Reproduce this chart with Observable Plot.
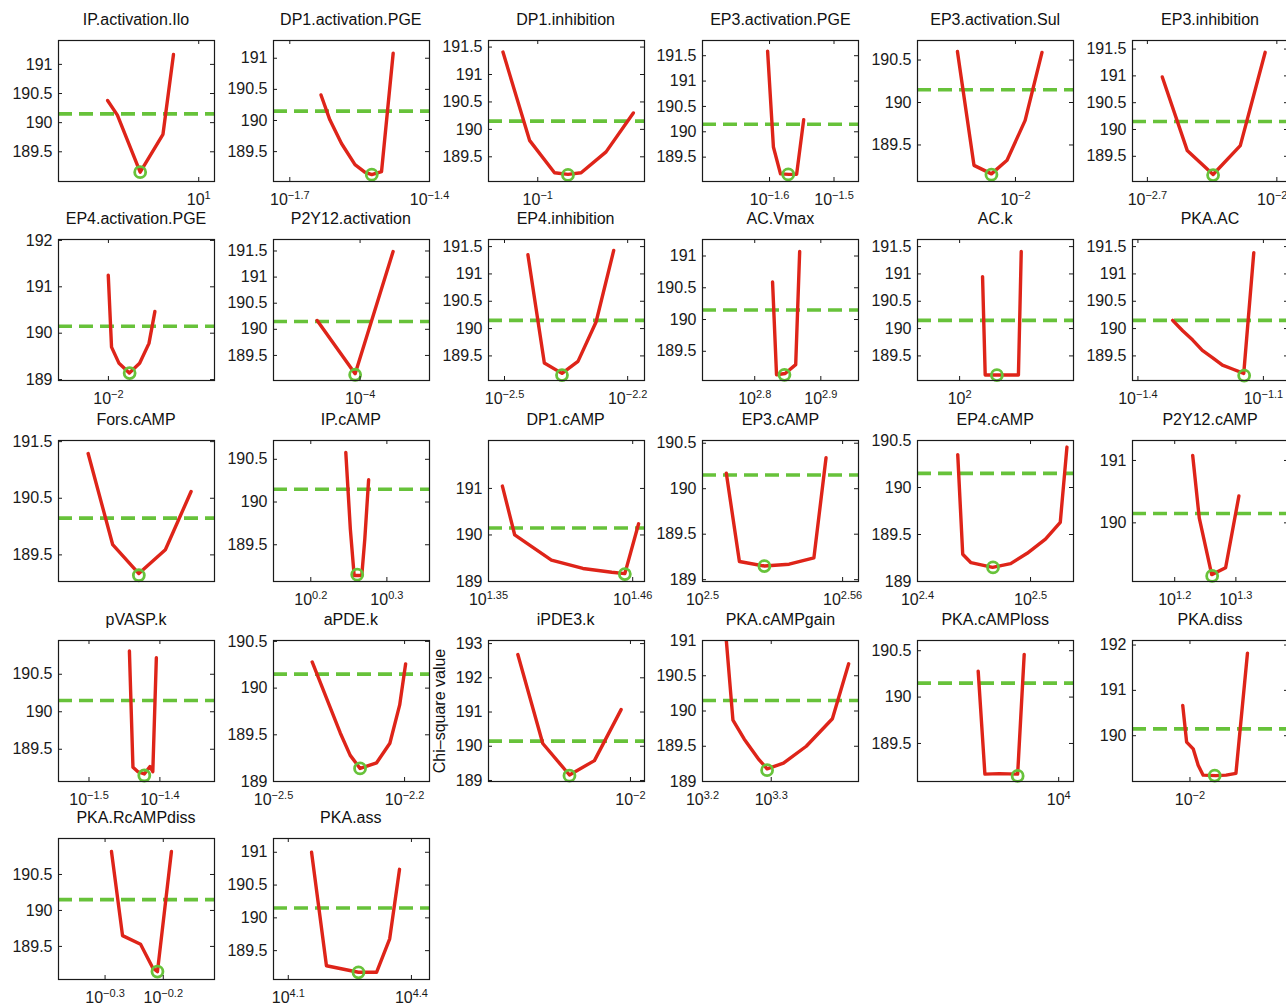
<!DOCTYPE html>
<html><head><meta charset="utf-8">
<script src="https://cdn.jsdelivr.net/npm/d3@7"></script>
<script src="https://cdn.jsdelivr.net/npm/@observablehq/plot@0.6"></script>
<style>
body{margin:0;background:#fff;overflow:hidden;}
#fig{position:relative;width:1286px;height:1007px;overflow:hidden;font-family:"Liberation Sans",Arial,Helvetica,sans-serif;color:#111;}
.ttl{position:absolute;font-size:16px;line-height:20px;white-space:nowrap;transform:translateX(-50%);}
.panel{position:absolute;}
#ylab{position:absolute;font-size:16px;white-space:nowrap;transform:translate(-50%,-50%) rotate(-90deg);}
</style></head><body><div id="fig"></div>
<script>
// ---------- data ----------
const threshold = 190.15;

const titles = [
  "IP.activation.Ilo","DP1.activation.PGE","DP1.inhibition","EP3.activation.PGE","EP3.activation.Sul","EP3.inhibition",
  "EP4.activation.PGE","P2Y12.activation","EP4.inhibition","AC.Vmax","AC.k","PKA.AC",
  "Fors.cAMP","IP.cAMP","DP1.cAMP","EP3.cAMP","EP4.cAMP","P2Y12.cAMP",
  "pVASP.k","aPDE.k","iPDE3.k","PKA.cAMPgain","PKA.cAMPloss","PKA.diss",
  "PKA.RcAMPdiss","PKA.ass"
];

// x domains as log10 exponents
const xDomainExp = [
  [0.6,1.045],[-1.735,-1.4],[-1.15,-0.675],[-1.704,-1.462],[-2.314,-1.814],[-2.746,-2.264],
  [-2.16,-1.66],[-4.333,-3.733],[-2.539,-2.159],[2.721,2.957],[1.865,2.365],[-1.413,-1.040],
  [0.1,0.5],[0.151,0.356],[1.35,1.469],[2.5,2.5668],[2.4,2.538],[1.131,1.386],
  [-1.543,-1.323],[-2.5,-2.143],[-2.455,-1.955],[3.2,3.427],[3.5475,4.0475],[-2.221,-1.621],
  [-0.380,-0.112],[4.064,4.444]
];

const xTickExp = [
  [1],[-1.7,-1.4],[-1],[-1.6,-1.5],[-2],[-2.7,-2.3],
  [-2],[-4],[-2.5,-2.2],[2.8,2.9],[2],[-1.4,-1.1],
  [],[0.2,0.3],[1.35,1.46],[2.5,2.56],[2.4,2.5],[1.2,1.3],
  [-1.5,-1.4],[-2.5,-2.2],[-2],[3.2,3.3],[4],[-2],
  [-0.3,-0.2],[4.1,4.4]
];

const yDomain = [
  [188.99,191.41],[189.02,191.285],[189.05,191.62],[189.02,191.80],[189.07,190.73],[189.03,191.66],
  [188.98,192.02],[189.02,191.72],[189.05,191.63],[189.04,191.26],[189.05,191.63],[189.05,191.63],
  [189.03,191.52],[189.07,190.72],[189.0,192.03],[188.98,190.53],[189.0,190.5],[189.06,191.32],
  [189.07,190.95],[189.0,190.51],[188.97,193.09],[189.0,191.0],[189.09,190.61],[188.99,192.1],
  [189.04,191.0],[189.06,191.21]
];

const yTicks = [
  [189.5,190,190.5,191],[189.5,190,190.5,191],[189.5,190,190.5,191,191.5],[189.5,190,190.5,191,191.5],[189.5,190,190.5],[189.5,190,190.5,191,191.5],
  [189,190,191,192],[189.5,190,190.5,191,191.5],[189.5,190,190.5,191,191.5],[189.5,190,190.5,191],[189.5,190,190.5,191,191.5],[189.5,190,190.5,191,191.5],
  [189.5,190.5,191.5],[189.5,190,190.5],[189,190,191],[189,189.5,190,190.5],[189,189.5,190,190.5],[190,191],
  [189.5,190,190.5],[189,189.5,190,190.5],[189,190,191,192,193],[189,189.5,190,190.5,191],[189.5,190,190.5],[190,191,192],
  [189.5,190,190.5],[189.5,190,190.5,191]
];

// profile curves: log10 parameter value and chi-square value
const curveExp = [
  [0.740,0.768,0.833,0.898,0.928],
  [-1.633,-1.614,-1.589,-1.560,-1.539,-1.524,-1.503,-1.478],
  [-1.106,-1.025,-0.949,-0.908,-0.868,-0.792,-0.709],
  [-1.603,-1.594,-1.583,-1.570,-1.558,-1.547],
  [-2.186,-2.133,-2.077,-2.027,-1.969,-1.915],
  [-2.654,-2.577,-2.497,-2.413,-2.336],
  [-2.0005,-1.990,-1.966,-1.933,-1.900,-1.870,-1.851],
  [-4.165,-4.019,-3.873],
  [-2.443,-2.403,-2.360,-2.321,-2.277,-2.234],
  [2.827,2.833,2.846,2.862,2.868],
  [2.0735,2.082,2.1195,2.1885,2.1975],
  [-1.317,-1.293,-1.269,-1.246,-1.222,-1.198,-1.174,-1.147,-1.123],
  [0.176,0.239,0.306,0.374,0.440],
  [0.246,0.252,0.257,0.267,0.271,0.276],
  [1.3606,1.370,1.383,1.398,1.422,1.444,1.454,1.4645],
  [2.5102,2.5158,2.5265,2.5371,2.5477,2.5529],
  [2.4356,2.440,2.4473,2.4664,2.4824,2.497,2.5132,2.5263,2.5322],
  [1.2294,1.2401,1.2605,1.2832,1.3049],
  [-1.443,-1.438,-1.431,-1.422,-1.414,-1.410,-1.405],
  [-2.4115,-2.3776,-2.3472,-2.3244,-2.3019,-2.264,-2.2337,-2.2112,-2.1976],
  [-2.361,-2.281,-2.1955,-2.1155,-2.03],
  [3.2304,3.2443,3.2608,3.2822,3.294,3.3178,3.351,3.389,3.4127],
  [3.742,3.7635,3.81,3.8685,3.8895],
  [-2.0278,-2.0128,-1.9876,-1.9684,-1.9492,-1.9012,-1.861,-1.8232,-1.7788],
  [-0.289,-0.270,-0.239,-0.218,-0.210,-0.186],
  [4.1567,4.193,4.271,4.315,4.347,4.371]
];
const curveChi = [
  [190.38,190.13,189.15,189.80,191.17],
  [190.41,190.01,189.63,189.29,189.17,189.13,189.18,191.08],
  [191.41,189.80,189.21,189.18,189.21,189.59,190.30],
  [191.59,189.70,189.17,189.16,189.16,190.24],
  [190.60,189.26,189.16,189.32,189.79,190.59],
  [190.98,189.61,189.16,189.70,191.44],
  [191.25,189.70,189.35,189.14,189.35,189.78,190.47],
  [190.17,189.15,191.49],
  [191.35,189.37,189.18,189.40,190.12,191.43],
  [190.59,189.13,189.15,189.29,191.07],
  [190.95,189.15,189.15,189.15,191.41],
  [190.15,189.96,189.79,189.60,189.47,189.33,189.26,189.18,191.39],
  [191.29,189.68,189.17,189.59,190.62],
  [190.58,189.68,189.14,189.14,189.57,190.26],
  [191.05,190.0,189.75,189.46,189.28,189.20,189.17,190.24],
  [190.17,189.20,189.15,189.17,189.24,190.34],
  [190.35,189.29,189.20,189.15,189.19,189.30,189.45,189.63,190.43],
  [191.08,190.08,189.17,189.28,190.43],
  [190.81,189.26,189.20,189.17,189.27,189.20,190.72],
  [190.28,189.88,189.52,189.28,189.14,189.20,189.41,189.82,190.26],
  [192.68,190.08,189.16,189.58,191.07],
  [191.5,189.87,189.60,189.31,189.18,189.26,189.50,189.89,190.67],
  [190.28,189.17,189.175,189.17,190.46],
  [190.67,189.86,189.71,189.35,189.13,189.12,189.13,189.17,191.82],
  [190.82,189.65,189.53,189.2,189.15,190.82],
  [191.0,189.27,189.17,189.17,189.68,190.74]
];

// best-fit point
const minExp = [0.833,-1.524,-0.908,-1.571,-2.077,-2.497,-1.932,-4.019,-2.360,2.845,2.1195,-1.146,
  0.306,0.261,1.454,2.5265,2.4668,1.2612,-1.422,-2.3019,-2.1955,3.294,3.8685,-1.9048,-0.210,4.271];
const minChi = [189.15,189.13,189.17,189.16,189.15,189.15,189.14,189.13,189.15,189.13,189.15,189.14,
  189.14,189.15,189.16,189.15,189.15,189.15,189.15,189.14,189.14,189.16,189.15,189.12,189.15,189.17];

// ---------- drawing ----------
const RED = "#de2419", GREEN = "#67c23a", INK = "#1a1a1a";
const FONT = '"Liberation Sans", Arial, Helvetica, sans-serif';
const W = 156, H = 141, ML = 62, MR = 12, MT = 12, MB = 40;
const colLeft = c => 58 + c * 214.8;
const rowTop = [40, 239, 440, 640, 838];
const fig = document.getElementById("fig");
const NS = "http://www.w3.org/2000/svg";
const fmtExp = e => { const v = +e.toFixed(2); return "10^" + (v < 0 ? "\u2212" + (-v) : String(v)); };

titles.forEach((title, i) => {
  const c = i % 6, r = Math.floor(i / 6);
  const bx = colLeft(c), by = rowTop[r];
  const pts = curveExp[i].map((e, j) => ({x: 10 ** e, y: curveChi[i][j]}));
  const xt = xTickExp[i].map(e => 10 ** e);
  const marks = [
    Plot.ruleY([threshold], {stroke: GREEN, strokeWidth: 3.6, strokeDasharray: "14,7"}),
    Plot.line(pts, {x: "x", y: "y", stroke: RED, strokeWidth: 3.4, clip: true}),
    Plot.dot([{x: 10 ** minExp[i], y: minChi[i]}], {x: "x", y: "y", r: 5.5, stroke: GREEN, strokeWidth: 2.8}),
    Plot.frame({stroke: INK, strokeWidth: 1.2}),
    Plot.ruleY(yTicks[i], {stroke: INK, insetLeft: W - 4}),
    Plot.ruleY(yTicks[i], {stroke: INK, insetRight: W - 4}),
    Plot.axisY(yTicks[i], {tickSize: 0, tickPadding: 6, fontSize: 16, label: null, tickFormat: d => String(d)}),
    Plot.ruleX(xt, {stroke: INK, insetTop: H - 4}),
    Plot.ruleX(xt, {stroke: INK, insetBottom: H - 4}),
    Plot.text(xt, {x: d => d, frameAnchor: "bottom", lineAnchor: "top", dy: 12, fontSize: 16,
      text: d => fmtExp(Math.log10(d))})
  ];
  const svg = Plot.plot({
    width: W + ML + MR, height: H + MT + MB,
    marginLeft: ML, marginRight: MR, marginTop: MT, marginBottom: MB,
    style: {background: "transparent", overflow: "visible", fontSize: "16px", fontFamily: FONT, color: INK, maxWidth: "none"},
    x: {type: "log", domain: xDomainExp[i].map(e => 10 ** e), axis: null},
    y: {domain: yDomain[i], axis: null},
    marks
  });
  svg.querySelectorAll("text").forEach(t => {
    const s = t.textContent;
    if (!s.includes("^")) return;
    const [b, e] = s.split("^");
    while (t.firstChild) t.removeChild(t.firstChild);
    const t1 = document.createElementNS(NS, "tspan"); t1.textContent = b;
    const t2 = document.createElementNS(NS, "tspan"); t2.textContent = e;
    t2.setAttribute("dy", "-0.55em"); t2.setAttribute("font-size", "11px");
    t.append(t1, t2);
  });
  const wrap = document.createElement("div");
  wrap.className = "panel";
  wrap.style.left = (bx - ML) + "px";
  wrap.style.top = (by - MT) + "px";
  wrap.appendChild(svg);
  fig.appendChild(wrap);
  const tt = document.createElement("div");
  tt.className = "ttl";
  tt.textContent = title;
  tt.style.left = (bx + W / 2) + "px";
  tt.style.top = (by - 30) + "px";
  fig.appendChild(tt);
});

const yl = document.createElement("div");
yl.id = "ylab";
yl.textContent = "Chi\u2013square value";
yl.style.left = "440px";
yl.style.top = "711px";
fig.appendChild(yl);
</script></body></html>
